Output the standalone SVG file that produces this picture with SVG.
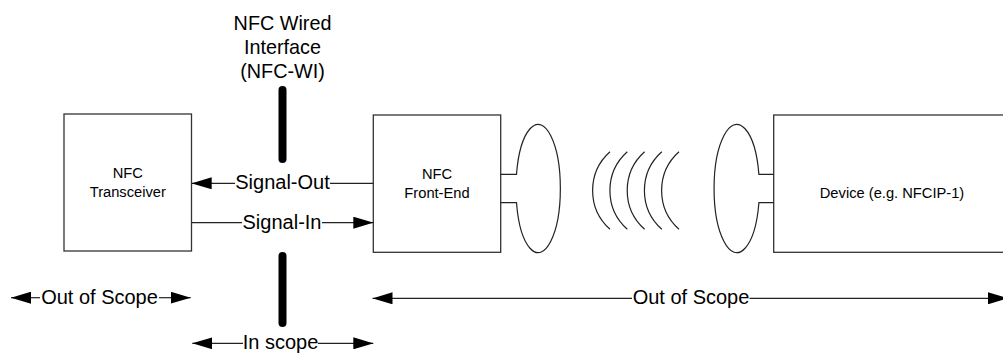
<svg xmlns="http://www.w3.org/2000/svg" width="1003" height="354" viewBox="0 0 1003 354">
<style>
.box{fill:#fff;stroke:#333;stroke-width:1.3}
.ln{stroke:#222;stroke-width:1.2;fill:none}
.ant{fill:none;stroke:#222;stroke-width:1.2}
.bar{stroke:#000;stroke-width:8;stroke-linecap:round}
.t{font-family:"Liberation Sans",Arial,sans-serif;fill:#000;text-anchor:middle}
.big{font-size:20px}
.sm{font-size:14.7px}
</style>
<defs>
<marker id="ah" viewBox="0 0 20 12" refX="20" refY="6" markerWidth="20" markerHeight="12" orient="auto" markerUnits="userSpaceOnUse"><path d="M0,0 L20,6 L0,12 z" fill="#000"/></marker>
</defs>
<rect width="1003" height="354" fill="#fff"/>
<g id="wi-label">
<text class="t" style="font-size:19.8px" x="282.5" y="30">NFC Wired</text>
<text class="t" style="font-size:19.8px" x="282.5" y="54">Interface</text>
<text class="t" style="font-size:19.8px" x="282.5" y="77.5">(NFC-WI)</text>
<line class="bar" x1="282.5" y1="90" x2="282.5" y2="159"/>
<line class="bar" x1="282.5" y1="256" x2="282.5" y2="323"/>
</g>
<g id="transceiver">
<rect class="box" x="64" y="114" width="127.5" height="137"/>
<text class="t sm" x="127.8" y="178">NFC</text>
<text class="t sm" x="127.8" y="197">Transceiver</text>
</g>
<g id="frontend">
<rect class="box" x="373.3" y="115" width="127.4" height="137.3"/>
<text class="t sm" x="437" y="179">NFC</text>
<text class="t sm" x="437" y="198">Front-End</text>
<path class="ant" d="M500.7,174.3 H516.5 A22.2,64.2 0 1 1 516.5,202.7 H500.7"/>
</g>
<g id="field">
<path class="ant" d="M610,151.7 A52,52 0 0 0 610,229.3"/>
<path class="ant" d="M627.3,151.7 A52,52 0 0 0 627.3,229.3"/>
<path class="ant" d="M644.6,151.7 A52,52 0 0 0 644.6,229.3"/>
<path class="ant" d="M661.8,151.7 A52,52 0 0 0 661.8,229.3"/>
<path class="ant" d="M679,151.7 A52,52 0 0 0 679,229.3"/>
</g>
<g id="device">
<rect class="box" x="773.7" y="115" width="240" height="137.3"/>
<path class="ant" d="M773.7,174.3 H758.9 A22.7,64.2 0 1 0 758.9,202.7 H773.7"/>
<text class="t sm" x="892" y="198">Device (e.g. NFCIP-1)</text>
</g>
<g id="connectors">
<line class="ln" x1="373.3" y1="183.3" x2="330" y2="183.3"/>
<line class="ln" x1="235" y1="183.3" x2="191.7" y2="183.3" marker-end="url(#ah)"/>
<text class="t big" x="282.5" y="188.5">Signal-Out</text>
<line class="ln" x1="191.7" y1="222.7" x2="242" y2="222.7"/>
<line class="ln" x1="322" y1="222.7" x2="373.3" y2="222.7" marker-end="url(#ah)"/>
<text class="t big" x="282" y="228.5">Signal-In</text>
<line class="ln" x1="40" y1="297.7" x2="11" y2="297.7" marker-end="url(#ah)"/>
<line class="ln" x1="159" y1="297.7" x2="190.7" y2="297.7" marker-end="url(#ah)"/>
<text class="t big" x="99.5" y="303.5">Out of Scope</text>
<line class="ln" x1="243" y1="343.3" x2="192.3" y2="343.3" marker-end="url(#ah)"/>
<line class="ln" x1="318" y1="343.3" x2="373.3" y2="343.3" marker-end="url(#ah)"/>
<text class="t big" x="280.5" y="349">In scope</text>
<line class="ln" x1="632" y1="298.3" x2="372.5" y2="298.3" marker-end="url(#ah)"/>
<line class="ln" x1="749.5" y1="298.3" x2="1008" y2="298.3" marker-end="url(#ah)"/>
<text class="t big" x="691" y="304">Out of Scope</text>
</g>
</svg>
